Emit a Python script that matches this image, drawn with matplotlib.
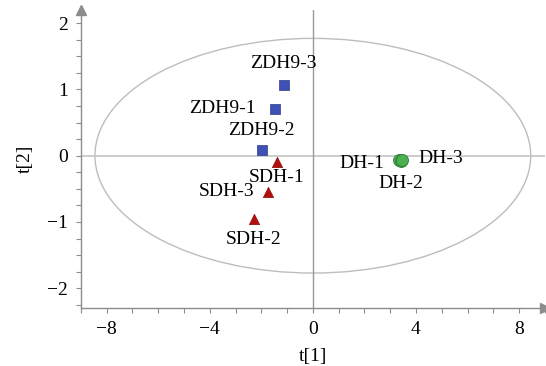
import matplotlib.pyplot as plt
import numpy as np
from matplotlib.patches import Ellipse
from matplotlib.ticker import MultipleLocator

plt.rcParams['font.family'] = ['Liberation Serif', 'DejaVu Serif']

# scores (t[1], t[2])
zdh_names = ['ZDH9-1', 'ZDH9-2', 'ZDH9-3']
zdh_t1 = [-1.48, -1.98, -1.13]
zdh_t2 = [0.71, 0.09, 1.07]

sdh_names = ['SDH-1', 'SDH-2', 'SDH-3']
sdh_t1 = [-1.40, -2.29, -1.75]
sdh_t2 = [-0.10, -0.95, -0.54]

dh_names = ['DH-1', 'DH-2', 'DH-3']
dh_t1 = [3.35, 3.40, 3.45]
dh_t2 = [-0.07, -0.08, -0.06]

# Hotelling T2 ellipse half-axes
ell_a, ell_b = 8.45, 1.77

# label offsets in points (dx, dy) per sample
label_off = {
  'ZDH9-1': (-38, 0), 'ZDH9-2': (0, 14), 'ZDH9-3': (0, 15),
  'SDH-1': (0, -11), 'SDH-2': (0, -15), 'SDH-3': (-30, 0),
  'DH-1': (-27, -2), 'DH-2': (0, -16), 'DH-3': (28, 1),
}

fig = plt.figure(figsize=(5.46, 3.66), dpi=100)
ax = fig.add_axes([0.148, 0.158, 0.85, 0.815])

grey = '#8c8c8c'
ax.add_patch(Ellipse((0, 0), 2 * ell_a, 2 * ell_b, fill=False,
                     edgecolor='#bdbdbd', lw=1.0, zorder=1))
ax.axhline(0, color='#c4c4c4', lw=1.2, zorder=1)
ax.axvline(0, color='#9a9a9a', lw=1.0, zorder=1)

ax.scatter(zdh_t1, zdh_t2, marker='s', s=60, color='#3f51b5',
           edgecolor='#2c3a8c', lw=0.5, zorder=3)
ax.scatter(sdh_t1, sdh_t2, marker='^', s=55, color='#b30f0f',
           edgecolor='#8a0a0a', lw=0.5, zorder=3)
ax.scatter(dh_t1, dh_t2, marker='o', s=75, color='#4caf50',
           edgecolor='#2e7d32', lw=0.6, zorder=3)

for names, xs, ys in [(zdh_names, zdh_t1, zdh_t2),
                      (sdh_names, sdh_t1, sdh_t2),
                      (dh_names, dh_t1, dh_t2)]:
  for n, x, y in zip(names, xs, ys):
    ax.annotate(n, (x, y), xytext=label_off[n], textcoords='offset points',
                ha='center', va='center', fontsize=14, zorder=4)

ax.set_xlim(-9, 9)
ax.set_ylim(-2.3, 2.2)
ax.xaxis.set_major_locator(MultipleLocator(4))
ax.xaxis.set_minor_locator(MultipleLocator(1))
ax.yaxis.set_major_locator(MultipleLocator(1))
ax.yaxis.set_minor_locator(MultipleLocator(0.25))
ax.tick_params(which='both', direction='out', color=grey, length=3.5,
               width=0.8, labelsize=14, pad=6)

ax.xaxis.set_major_formatter(plt.FuncFormatter(lambda v, p: f'{v:g}'.replace('-', '\u2212')))
ax.yaxis.set_major_formatter(plt.FuncFormatter(lambda v, p: f'{v:g}'.replace('-', '\u2212')))

for s in ['top', 'right']:
  ax.spines[s].set_visible(False)
for s in ['left', 'bottom']:
  ax.spines[s].set_color(grey)
  ax.spines[s].set_linewidth(1.0)

# arrow heads on the axes
ax.plot(1, 0, '>', color=grey, ms=7, transform=ax.transAxes, clip_on=False)
ax.plot(0, 1, '^', color=grey, ms=7, transform=ax.transAxes, clip_on=False)

ax.set_xlabel('t[1]', fontsize=14, labelpad=7)
ax.set_ylabel('t[2]', fontsize=14, labelpad=9)

fig.savefig('out.png', dpi=100, facecolor='white')
